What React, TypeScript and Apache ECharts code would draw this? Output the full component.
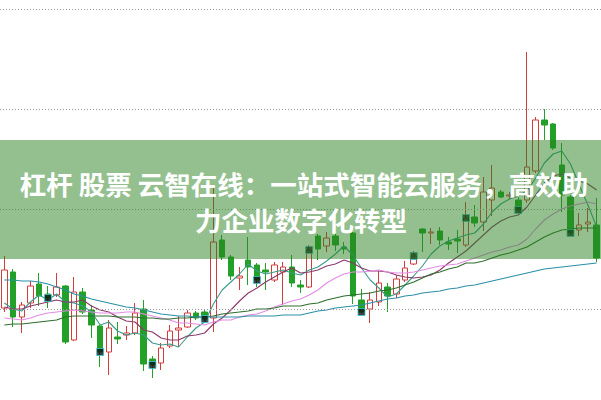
import React, { useEffect, useRef } from "react";
import * as echarts from "echarts";

const categories = Array.from({ length: 69 }, (_, i) => `D${i + 1}`);

const opens = [10.01, 10.37, 9.92, 10.06, 10.25, 10.15, 10.14, 10.23, 9.69, 10.17,
  9.99, 9.83, 9.57, 9.72, 9.74, 9.76, 10.0, 9.5, 9.46, 9.63,
  9.79, 9.82, 9.96, 9.97, 9.91, 10.69, 10.52, 10.31, 10.49, 10.44,
  10.39, 10.29, 10.37, 10.42, 10.24, 10.22, 10.73, 10.63, 10.73, 10.62,
  10.76, 10.09, 10.0, 10.07, 10.22, 10.15, 10.29, 10.45, 10.8, 10.76,
  10.78, 10.67, 10.7, 10.64, 10.92, 10.87, 11.09, 11.17, 11.13, 11.09,
  11.09, 11.38, 11.89, 11.85, 11.44, 11.12, 10.79, 10.85, 10.84];
const closes = [10.39, 9.92, 10.04, 10.23, 10.13, 10.11, 10.22, 9.67, 10.17, 9.97,
  9.84, 9.57, 9.81, 9.7, 9.76, 9.96, 9.45, 9.44, 9.61, 9.78,
  9.81, 9.96, 9.91, 9.9, 10.67, 10.52, 10.33, 10.33, 10.42, 10.29,
  10.37, 10.44, 10.42, 10.26, 10.22, 10.59, 10.6, 10.71, 10.64, 10.6,
  10.13, 9.97, 10.09, 10.26, 10.13, 10.3, 10.41, 10.53, 10.76, 10.77,
  10.69, 10.65, 10.68, 10.91, 10.86, 11.17, 11.21, 11.12, 11.14, 10.99,
  11.42, 11.89, 11.84, 11.61, 11.14, 10.76, 10.84, 10.87, 10.51];
const lows = [9.97, 9.82, 9.76, 10.01, 10.03, 10.01, 10.12, 9.65, 9.68, 9.95,
  9.71, 9.42, 9.34, 9.65, 9.69, 9.74, 9.38, 9.31, 9.39, 9.61,
  9.62, 9.81, 9.89, 9.87, 9.77, 10.49, 10.29, 10.19, 10.24, 10.22,
  10.19, 10.27, 10.04, 10.22, 10.16, 10.21, 10.49, 10.57, 10.58, 10.55,
  10.05, 9.96, 9.86, 10.03, 9.97, 10.11, 10.27, 10.44, 10.57, 10.65,
  10.64, 10.59, 10.56, 10.62, 10.82, 10.78, 10.93, 11.11, 11.1, 10.97,
  11.06, 11.36, 11.69, 11.59, 10.97, 10.74, 10.73, 10.77, 10.47];
const highs = [10.53, 10.4, 10.07, 10.28, 10.36, 10.23, 10.36, 10.24, 10.32, 10.21,
  10.04, 9.84, 9.89, 9.87, 9.83, 10.06, 10.09, 9.53, 9.66, 9.84,
  9.93, 9.99, 9.98, 10.0, 11.22, 10.74, 10.54, 10.42, 10.72, 10.46,
  10.46, 10.47, 10.47, 10.54, 10.29, 10.64, 10.75, 10.77, 10.76, 10.67,
  10.77, 10.2, 10.17, 10.38, 10.26, 10.34, 10.48, 10.58, 10.81, 10.81,
  10.82, 10.72, 10.79, 11.07, 11.04, 11.32, 11.44, 11.19, 11.17, 11.12,
  12.57, 11.92, 12.0, 11.86, 11.66, 11.14, 10.96, 11.01, 11.11];

const ma5 = [10.06, 10.0, 9.98, 10.07, 10.14, 10.09, 10.15, 10.07, 10.06, 10.03,
  9.97, 9.84, 9.87, 9.78, 9.74, 9.76, 9.74, 9.66, 9.64, 9.65,
  9.62, 9.72, 9.81, 9.87, 10.05, 10.19, 10.27, 10.35, 10.45, 10.38,
  10.35, 10.37, 10.39, 10.36, 10.34, 10.39, 10.42, 10.48, 10.55, 10.63,
  10.54, 10.41, 10.29, 10.21, 10.12, 10.15, 10.24, 10.33, 10.43, 10.55,
  10.63, 10.68, 10.71, 10.74, 10.76, 10.85, 10.97, 11.05, 11.1, 11.13,
  11.18, 11.31, 11.46, 11.55, 11.58, 11.45, 11.24, 11.04, 10.82];
const ma10 = [10.02, 10.0, 10.0, 10.03, 10.05, 10.07, 10.09, 10.07, 10.07, 10.09,
  10.03, 9.99, 9.97, 9.92, 9.88, 9.87, 9.79, 9.77, 9.71, 9.69,
  9.69, 9.73, 9.74, 9.76, 9.85, 9.91, 9.99, 10.08, 10.16, 10.21,
  10.27, 10.32, 10.37, 10.41, 10.36, 10.37, 10.39, 10.43, 10.45, 10.49,
  10.46, 10.41, 10.38, 10.38, 10.37, 10.34, 10.32, 10.31, 10.32, 10.34,
  10.39, 10.46, 10.52, 10.58, 10.66, 10.74, 10.82, 10.88, 10.92, 10.94,
  11.02, 11.14, 11.26, 11.33, 11.35, 11.31, 11.28, 11.25, 11.19];
const ma20 = [9.91, 9.9, 9.89, 9.91, 9.94, 9.96, 9.97, 9.98, 9.99, 9.98,
  9.97, 9.96, 9.96, 9.96, 9.97, 9.97, 9.95, 9.93, 9.91, 9.89,
  9.86, 9.86, 9.85, 9.84, 9.87, 9.89, 9.89, 9.92, 9.94, 9.95,
  9.98, 10.02, 10.05, 10.08, 10.1, 10.14, 10.19, 10.26, 10.31, 10.35,
  10.37, 10.37, 10.38, 10.39, 10.37, 10.36, 10.36, 10.37, 10.39, 10.41,
  10.43, 10.44, 10.45, 10.48, 10.51, 10.54, 10.57, 10.59, 10.62, 10.64,
  10.7, 10.8, 10.89, 10.95, 11.0, 11.03, 11.05, 11.07, 11.05];
const ma30 = [9.84, 9.85, 9.85, 9.86, 9.87, 9.88, 9.89, 9.92, 9.93, 9.93,
  9.93, 9.93, 9.93, 9.92, 9.92, 9.92, 9.91, 9.91, 9.9, 9.9,
  9.91, 9.91, 9.92, 9.92, 9.93, 9.95, 9.96, 9.97, 9.98, 10.0,
  10.0, 10.01, 10.03, 10.03, 10.03, 10.05, 10.06, 10.09, 10.11, 10.13,
  10.14, 10.15, 10.16, 10.18, 10.19, 10.21, 10.24, 10.27, 10.31, 10.35,
  10.37, 10.4, 10.42, 10.46, 10.46, 10.48, 10.51, 10.54, 10.56, 10.59,
  10.62, 10.67, 10.72, 10.76, 10.79, 10.8, 10.81, 10.81, 10.81];
const ma60 = [10.29, 10.29, 10.28, 10.28, 10.27, 10.25, 10.22, 10.19, 10.15, 10.13,
  10.1, 10.08, 10.06, 10.04, 10.02, 10.01, 9.99, 9.97, 9.95, 9.94,
  9.93, 9.93, 9.92, 9.92, 9.92, 9.92, 9.92, 9.92, 9.93, 9.93,
  9.93, 9.93, 9.94, 9.94, 9.94, 9.96, 9.98, 9.99, 10.01, 10.02,
  10.03, 10.04, 10.06, 10.08, 10.1, 10.11, 10.13, 10.14, 10.16, 10.17,
  10.18, 10.2, 10.21, 10.23, 10.24, 10.26, 10.28, 10.3, 10.32, 10.34,
  10.36, 10.38, 10.4, 10.41, 10.42, 10.43, 10.44, 10.45, 10.46];

const markerDays = [5, 11, 17, 23, 29, 35, 41, 47, 53, 59, 65];
const gridLevels = [10, 11, 12, 13];

const titleLine1 = "杠杆 股票 云智在线：一站式智能云服务，高效助";
const titleLine2 = "力企业数字化转型";

export default function App() {
  const ref = useRef<HTMLDivElement>(null);
  useEffect(() => {
    if (!ref.current) return;
    const chart = echarts.init(ref.current, null, { renderer: "svg" });
    const candleData = opens.map((o, i) => [o, closes[i], lows[i], highs[i]]);
    const markerData = markerDays.map((d) => [d, closes[d]]);
    const maLine = (name: string, data: number[], color: string) => ({
      type: "line",
      name,
      data,
      symbol: "none",
      smooth: false,
      silent: true,
      lineStyle: { color, width: 1.1 },
      z: 3,
    });
    chart.setOption({
      animation: false,
      backgroundColor: "#ffffff",
      grid: { left: -4, right: 0, top: 0, bottom: 0 },
      xAxis: { type: "category", data: categories, show: false, boundaryGap: true },
      yAxis: { type: "value", min: 9.09, max: 13.09, show: false },
      series: [
        {
          type: "candlestick",
          data: candleData,
          barWidth: 6,
          silent: true,
          itemStyle: {
            color: "#ffffff",
            color0: "#22a027",
            borderColor: "#d23c3c",
            borderColor0: "#22a027",
            borderWidth: 1,
          },
          markLine: {
            silent: true,
            symbol: ["none", "none"],
            label: { show: false },
            lineStyle: { type: [1, 2], color: "#9a9a9a", width: 1 },
            data: gridLevels.map((v) => ({ yAxis: v })),
          },
          z: 2,
        },
        maLine("MA5", ma5, "#3a9c8c"),
        maLine("MA10", ma10, "#8a3a6a"),
        maLine("MA20", ma20, "#e38be3"),
        maLine("MA30", ma30, "#2e6e2e"),
        maLine("MA60", ma60, "#2a8fa8"),
        {
          type: "scatter",
          data: markerData,
          symbol: "rect",
          symbolSize: [7, 7],
          silent: true,
          itemStyle: { color: "#111111", borderColor: "#39c6d6", borderWidth: 1 },
          z: 5,
        },
      ],
      graphic: [
        {
          type: "rect",
          shape: { x: 0, y: 140, width: 601, height: 119 },
          style: { fill: "rgba(40,130,30,0.5)" },
          z: 100,
          silent: true,
        },
        {
          type: "text",
          x: 304,
          y: 183,
          z: 101,
          silent: true,
          style: {
            text: titleLine1,
            fill: "#ffffff",
            font: 'bold 26.5px "Noto Sans CJK SC"',
            align: "center",
            verticalAlign: "middle",
            textAlign: "center",
            textVerticalAlign: "middle",
          },
        },
        {
          type: "text",
          x: 301,
          y: 219,
          z: 101,
          silent: true,
          style: {
            text: titleLine2,
            fill: "#ffffff",
            font: 'bold 26.5px "Noto Sans CJK SC"',
            align: "center",
            verticalAlign: "middle",
            textAlign: "center",
            textVerticalAlign: "middle",
          },
        },
      ],
    });
    return () => chart.dispose();
  }, []);
  return (
    <div
      ref={ref}
      style={{ position: "absolute", left: 0, top: 0, width: 601, height: 400 }}
    />
  );
}
